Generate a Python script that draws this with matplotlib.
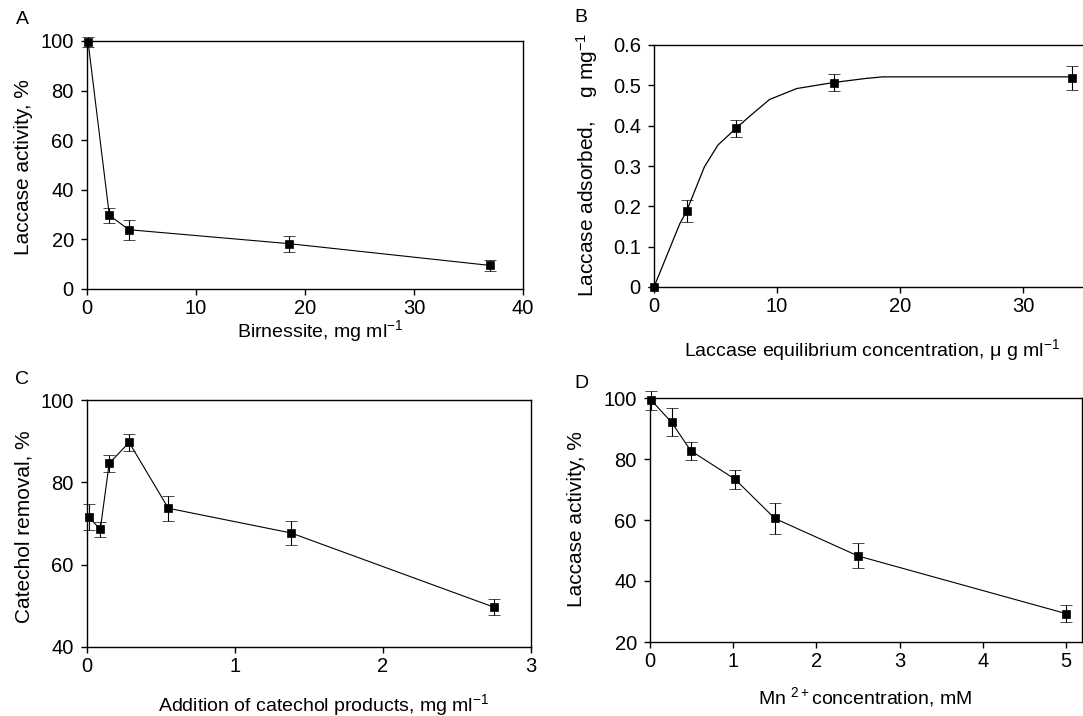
import matplotlib
matplotlib.use('Agg')
import matplotlib.pyplot as plt

plt.rcParams['font.family'] = ['Liberation Sans', 'DejaVu Sans']
plt.rcParams['mathtext.fontset'] = 'custom'
plt.rcParams['mathtext.rm'] = 'Liberation Sans'
plt.rcParams['mathtext.it'] = 'Liberation Sans:italic'
plt.rcParams['mathtext.bf'] = 'Liberation Sans:bold'

# panel A - birnessite dose
a_x = [0.1, 2.05, 3.85, 18.5, 37.0]
a_y = [99.6, 29.7, 23.9, 18.3, 9.5]
a_err = [2.0, 3.0, 4.0, 3.2, 2.3]

# panel B - adsorption isotherm
b_x = [0.0, 2.65, 6.65, 14.6, 34.0]
b_y = [0.0, 0.188, 0.393, 0.507, 0.519]
b_err = [0.0, 0.028, 0.02, 0.02, 0.03]
b_fit_x = [0, 2.1, 2.65, 3.4, 4.1, 5.2, 6.65, 7.8, 9.4, 11.6, 14.6, 17.2, 18.6, 34.0]
b_fit_y = [0, 0.157, 0.188, 0.245, 0.298, 0.352, 0.393, 0.424, 0.465, 0.492, 0.507, 0.517, 0.521, 0.521]

# panel C - catechol products
c_x = [0.012, 0.09, 0.15, 0.285, 0.55, 1.38, 2.75]
c_y = [71.5, 68.6, 84.6, 89.7, 73.7, 67.7, 49.7]
c_err = [3.2, 1.8, 2.0, 2.0, 3.0, 3.0, 2.0]

# panel D - Mn2+
d_x = [0.017, 0.26, 0.49, 1.02, 1.5, 2.5, 5.0]
d_y = [99.2, 92.0, 82.7, 73.4, 60.5, 48.2, 29.3]
d_err = [3.0, 4.6, 2.9, 3.1, 5.0, 4.1, 2.9]

W, H = 1083, 716
fig = plt.figure(figsize=(W / 100, H / 100), dpi=100)

TICK_FS = 14.5
XLAB_FS = 14
YLAB_FS = 15


def box(l, t, r, b):
    return [l / W, (H - b) / H, (r - l) / W, (b - t) / H]


def style(ax):
    for s in ax.spines.values():
        s.set_linewidth(1.0)
    ax.tick_params(direction='out', length=4.5, width=1.0, labelsize=TICK_FS,
                   top=False, right=False)
    ax.tick_params(axis='x', pad=2.5)
    ax.tick_params(axis='y', pad=5)


def label_at(ax, which, text, px, py):
    # put the axis label centre on a pixel position
    bb = ax.get_position()
    fx, fy = px / W, (H - py) / H
    ux = (fx - bb.x0) / bb.width
    uy = (fy - bb.y0) / bb.height
    if which == 'x':
        ax.set_xlabel(text, fontsize=XLAB_FS, va='center', ha='center')
        ax.xaxis.set_label_coords(ux, uy)
    else:
        ax.set_ylabel(text, fontsize=YLAB_FS, va='center', ha='center')
        ax.yaxis.set_label_coords(ux, uy)


ek = dict(fmt='s', color='k', ms=6.2, mew=0.5, capsize=4.5, elinewidth=0.8,
          capthick=0.8, lw=0.8, clip_on=False)

# A
axA = fig.add_axes(box(87, 41, 523, 289))
axA.errorbar(a_x, a_y, yerr=a_err, ls='-', **ek)
axA.set_xlim(0, 40)
axA.set_ylim(0, 100)
axA.set_xticks([0, 10, 20, 30, 40])
axA.set_yticks([0, 20, 40, 60, 80, 100])
style(axA)
label_at(axA, 'x', 'Birnessite, mg ml$^{-1}$', 320, 331)
label_at(axA, 'y', 'Laccase activity, %', 24, 167)
fig.text(22.5 / W, (H - 20) / H, 'A', fontsize=14, ha='center', va='center')

# B
axB = fig.add_axes(box(654, 45, 1084.5, 287))
axB.plot(b_fit_x, b_fit_y, color='k', lw=0.9)
axB.errorbar(b_x, b_y, yerr=b_err, ls='none', **ek)
axB.set_xlim(0, 35)
axB.set_ylim(0, 0.6)
axB.set_xticks([0, 10, 20, 30])
axB.set_yticks([0, 0.1, 0.2, 0.3, 0.4, 0.5, 0.6])
axB.set_yticklabels(['0', '0.1', '0.2', '0.3', '0.4', '0.5', '0.6'])
style(axB)
label_at(axB, 'x', 'Laccase equilibrium concentration, \u03bc g ml$^{-1}$', 872, 350)
label_at(axB, 'y', 'Laccase adsorbed,    g mg$^{-1}$', 587, 165)
fig.text(581 / W, (H - 18) / H, 'B', fontsize=14, ha='center', va='center')

# C
axC = fig.add_axes(box(87, 400, 530.6, 647))
axC.errorbar(c_x, c_y, yerr=c_err, ls='-', **ek)
axC.set_xlim(0, 3)
axC.set_ylim(40, 100)
axC.set_xticks([0, 1, 2, 3])
axC.set_yticks([40, 60, 80, 100])
style(axC)
label_at(axC, 'x', 'Addition of catechol products, mg ml$^{-1}$', 324, 705)
label_at(axC, 'y', 'Catechol removal, %', 24, 527)
fig.text(22.5 / W, (H - 380) / H, 'C', fontsize=14, ha='center', va='center')

# D
axD = fig.add_axes(box(650, 398, 1082, 642))
axD.errorbar(d_x, d_y, yerr=d_err, ls='-', **ek)
axD.set_xlim(0, 5.19)
axD.set_ylim(20, 100)
axD.set_xticks([0, 1, 2, 3, 4, 5])
axD.set_yticks([20, 40, 60, 80, 100])
style(axD)
label_at(axD, 'x', 'Mn $^{2+}$concentration, mM', 865, 697)
label_at(axD, 'y', 'Laccase activity, %', 576, 519)
fig.text(581.5 / W, (H - 383) / H, 'D', fontsize=14, ha='center', va='center')

fig.savefig('out.png', dpi=100)
